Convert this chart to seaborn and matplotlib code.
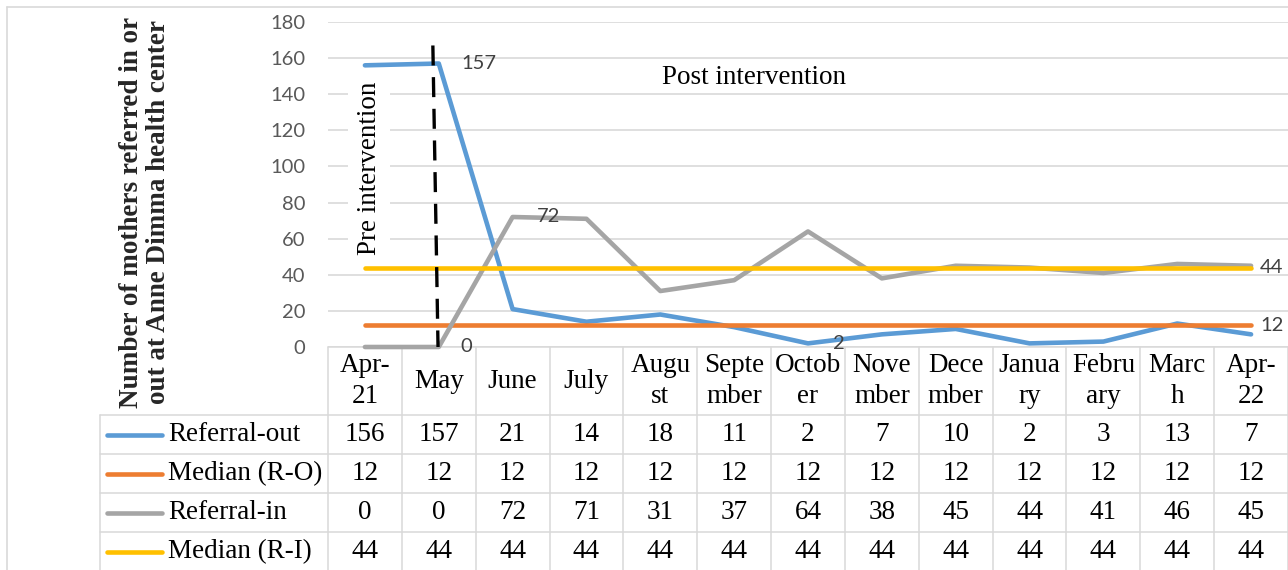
import numpy as np
import matplotlib
matplotlib.use("Agg")
import matplotlib.pyplot as plt
import matplotlib.transforms as mtransforms
from matplotlib.lines import Line2D
import seaborn as sns

# --- DATA ---
months = ["Apr-\n21", "May", "June", "July", "Augu\nst", "Septe\nmber", "Octob\ner",
          "Nove\nmber", "Dece\nmber", "Janua\nry", "Febru\nary", "Marc\nh", "Apr-\n22"]
referral_out = [156, 157, 21, 14, 18, 11, 2, 7, 10, 2, 3, 13, 7]
median_ro = [12] * 13
referral_in = [0, 0, 72, 71, 31, 37, 64, 38, 45, 44, 41, 46, 45]
median_ri = [44] * 13
row_names = ["Referral-out", "Median (R-O)", "Referral-in", "Median (R-I)"]
y_ticks = [0, 20, 40, 60, 80, 100, 120, 140, 160, 180]

series = [referral_out, median_ro, referral_in, median_ri]
colors = ["#5B9BD5", "#ED7D31", "#A5A5A5", "#FFC000"]

# (series index, point index, x offset in pixels)
data_labels = [(0, 1, 23), (2, 2, 24), (2, 1, 22), (0, 6, 25), (3, 12, 9), (1, 12, 9)]

sns.set_theme(style="white")
serif = ["Liberation Serif", "DejaVu Serif"]
sans = ["Lato", "DejaVu Sans"]
plt.rcParams["font.family"] = sans

W, H = 1288, 570
fig = plt.figure(figsize=(W / 100, H / 100), dpi=100)
ax = fig.add_axes([328 / W, 223 / H, 960 / W, 325 / H])

x = np.arange(len(months))
for vals, c in zip(series, colors):
    sns.lineplot(x=x, y=vals, color=c, lw=3.3, ax=ax, solid_capstyle="round",
                 clip_on=False, zorder=3)

ax.set_xlim(-0.5, len(months) - 0.5)
ax.set_ylim(0, 180)
ax.set_yticks(y_ticks)
ax.set_xticks([])
ax.tick_params(axis="y", length=0, pad=16.5, labelsize=14.5, labelcolor="#595959")
ax.yaxis.grid(True, color="#d9d9d9", lw=1.2)
ax.set_axisbelow(True)
for s in ax.spines.values():
    s.set_visible(False)

# data labels
for si, pi, dx in data_labels:
    v = series[si][pi]
    ax.annotate(str(v), (x[pi], v), xytext=(dx, 0), textcoords="offset pixels",
                ha="left", va="center", fontsize=14.5, color="#404040", zorder=4)

# intervention marker and texts
ax.plot([0.92, 0.99], [167, 0], color="black", lw=2.4, ls=(0, (6, 3.5)), zorder=4,
        clip_on=False)
ax.text(0.06, 99, "Pre intervention", rotation=90, ha="center", va="center",
        fontsize=19.5, family=serif, color="black", zorder=2,
        bbox=dict(facecolor="white", edgecolor="none", pad=6))
ax.text(5.27, 149, "Post intervention", ha="center", va="center", fontsize=19.5,
        family=serif, color="black")

# y label
fig.text(145 / W, 1 - 212 / H, "Number of mothers referred in or\nout at Anne Dimma health center",
         rotation=90, ha="center", va="center", fontsize=19.5, fontweight="bold",
         family=serif, linespacing=1.15)

# --- data table below the plot ---
trans = mtransforms.blended_transform_factory(ax.transData, ax.transAxes)
px = 1 / 325  # one pixel in axes-fraction units (vertical)
header_h = 68 * px
row_h = 39 * px
grid_kw = dict(color="#d9d9d9", lw=1.1, clip_on=False)
left_edge = -228 / 960
n_rows = len(row_names)
table_bottom = -header_h - n_rows * row_h - 0.02

# horizontal lines
ax.plot([-0.5, len(months) - 0.5], [0, 0], transform=trans, **grid_kw)
for r in range(n_rows + 1):
    yy = -header_h - r * row_h
    ax.plot([left_edge, 1.0], [yy, yy], transform=ax.transAxes, **grid_kw)
# vertical lines
for i in range(len(months) + 1):
    ax.plot([i - 0.5, i - 0.5], [0, table_bottom], transform=trans, **grid_kw)
ax.plot([left_edge, left_edge], [-header_h, table_bottom], transform=ax.transAxes, **grid_kw)

for i, m in enumerate(months):
    ax.text(i, -header_h / 2, m, transform=trans, ha="center", va="center",
            fontsize=19.5, family=serif, color="black", linespacing=1.3)

for r, (name, vals, c) in enumerate(zip(row_names, series, colors)):
    yc = -header_h - (r + 0.5) * row_h
    ax.add_line(Line2D([-221 / 960, -166 / 960], [yc, yc], transform=ax.transAxes,
                       color=c, lw=3.3, solid_capstyle="round", clip_on=False))
    ax.text(-160 / 960, yc, name, transform=ax.transAxes, ha="left", va="center",
            fontsize=19.5, family=serif, color="black")
    for i, v in enumerate(vals):
        ax.text(i, yc, str(v), transform=trans, ha="center", va="center",
                fontsize=19.5, family=serif, color="black")

# chart border
fig.add_artist(Line2D([7 / W, 1], [1 - 7 / H, 1 - 7 / H], color="#d9d9d9", lw=1.2))
fig.add_artist(Line2D([7 / W, 7 / W], [0, 1 - 7 / H], color="#d9d9d9", lw=1.2))

fig.savefig("out.png", dpi=100)
